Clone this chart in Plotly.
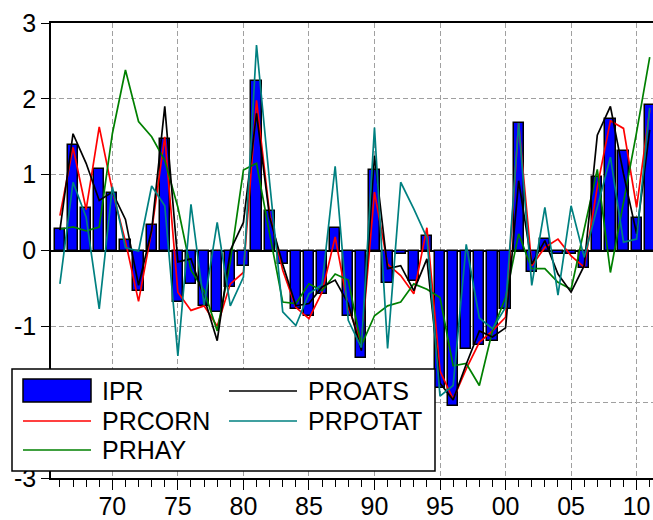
import plotly.graph_objects as go

# Annual observations 1966-2011
years = list(range(1966, 2012))

ipr = [0.28, 1.39, 0.56, 1.08, 0.76, 0.14, -0.53, 0.33, 1.47, -0.68,
       -0.44, -0.73, -0.81, -0.48, -0.21, 2.23, 0.52, -0.18, -0.77, -0.87,
       -0.57, 0.30, -0.87, -1.42, 1.06, -0.43, -0.05, -0.40, 0.19, -1.81,
       -2.05, -1.30, -1.25, -1.19, -0.77, 1.68, -0.29, 0.15, -0.05, -0.05,
       -0.23, 0.97, 1.74, 1.31, 0.43, 1.92]

prcorn = [0.46, 1.36, 0.54, 1.63, 0.79, 0.12, -0.67, 0.26, 1.50, -0.55,
          -0.79, -0.73, -1.00, -0.44, -0.29, 1.98, 0.48, -0.26, -0.75, -0.90,
          -0.55, 0.18, -0.75, -1.23, 0.77, -0.18, -0.33, -0.57, 0.30, -1.59,
          -1.96, -1.56, -1.21, -1.06, -0.88, 1.68, -0.20, 0.04, 0.15, -0.07,
          -0.22, 0.84, 1.71, 1.61, 0.57, 1.85]

prhay = [0.28, 0.31, 0.26, 0.31, 1.54, 2.38, 1.70, 1.50, 1.19, 0.57,
         -0.26, -0.53, -1.06, -0.15, 1.06, 1.15, 0.22, -0.68, -0.70, -0.44,
         -0.53, -0.31, -0.39, -1.25, -0.86, -0.73, -0.68, -0.44, -0.51, -0.62,
         -1.52, -1.49, -1.78, -1.06, -0.62, 0.22, -0.24, -0.24, -0.42, -0.51,
         0.28, 1.07, -0.29, 0.64, 1.56, 2.55]

proats = [0.27, 1.54, 1.15, 0.66, 0.77, 0.41, -0.46, 0.27, 1.90, -0.15,
          -0.11, -0.62, -1.19, 0.00, 0.37, 1.81, 0.44, -0.18, -0.73, -0.70,
          -0.48, -0.39, -0.70, -1.32, 1.25, -0.24, -0.20, -0.53, -0.11, -1.75,
          -1.97, -1.50, -1.06, -1.14, -1.02, 0.92, -0.18, 0.13, -0.31, -0.55,
          -0.20, 1.52, 1.90, 1.01, 0.22, 1.59]

prpotat = [-0.44, 0.90, 0.44, -0.77, 0.84, 0.04, -0.01, 0.85, 0.59, -1.39,
           0.61, -0.72, 0.37, -0.73, -0.35, 2.71, 0.90, -0.81, -0.99, -0.57,
           -0.45, 1.11, -0.92, -1.28, 1.62, -1.29, 0.90, 0.55, 0.17, -1.92,
           -1.78, 0.08, -0.89, -1.03, -0.75, 1.68, -0.46, 0.57, -0.59, 0.59,
           -0.09, 0.57, 1.23, 0.11, 0.15, 1.88]

x_tick_vals = [1970, 1975, 1980, 1985, 1990, 1995, 2000, 2005, 2010]
x_tick_text = ["70", "75", "80", "85", "90", "95", "00", "05", "10"]
y_tick_vals = [-3, -2, -1, 0, 1, 2, 3]
y_tick_text = ["-3", "-2", "-1", "0", "1", "2", "3"]

line_names = ["PRCORN", "PRHAY", "PROATS", "PRPOTAT"]
line_values = [prcorn, prhay, proats, prpotat]
line_colors = ["#ff0000", "#008000", "#000000", "#008080"]

FONT = "Liberation Sans, Arial, sans-serif"
W, H = 653, 520
ML, MR, MT, MB = 51, 0, 23, 42
PW, PH = W - ML - MR, H - MT - MB

fig = go.Figure()
fig.add_trace(go.Bar(x=years, y=ipr, name="IPR", width=0.78,
                     marker=dict(color="#0000ff",
                                 line=dict(color="#000000", width=1.5)),
                     showlegend=False))
for name, vals, col in zip(line_names, line_values, line_colors):
    fig.add_trace(go.Scatter(x=years, y=vals, name=name, mode="lines",
                             line=dict(color=col, width=1.7),
                             showlegend=False))


def px_x(px):
    return (px - ML) / PW


def px_y(py):
    return (H - MB - py) / PH


# Legend drawn as a boxed two-column key in the lower left
shapes = [dict(type="rect", xref="paper", yref="paper",
               x0=px_x(12), x1=px_x(435), y0=px_y(471), y1=px_y(369),
               fillcolor="white", line=dict(color="black", width=1.5),
               layer="above")]
annotations = []
entries = [("IPR", "#0000ff", "bar")] + [(n, c, "line") for n, c in zip(line_names, line_colors)]
row_y = [391, 421, 450]
col_x = [(23, 91, 100), (229, 297, 306)]
for i, (label, col, kind) in enumerate(entries):
    c, r = divmod(i, 3)
    x0, x1, tx = col_x[c]
    cy = row_y[r]
    if kind == "bar":
        shapes.append(dict(type="rect", xref="paper", yref="paper",
                           x0=px_x(x0), x1=px_x(x1), y0=px_y(cy + 11), y1=px_y(cy - 12),
                           fillcolor=col, line=dict(color="black", width=1.5),
                           layer="above"))
    else:
        shapes.append(dict(type="line", xref="paper", yref="paper",
                           x0=px_x(x0), x1=px_x(x1), y0=px_y(cy), y1=px_y(cy),
                           line=dict(color=col, width=1.7), layer="above"))
    annotations.append(dict(xref="paper", yref="paper", x=px_x(tx), y=px_y(cy),
                            text=label, showarrow=False, xanchor="left",
                            yanchor="middle", font=dict(size=25, color="black", family=FONT)))

fig.update_layout(
    width=W, height=H, autosize=False,
    margin=dict(l=ML, r=MR, t=MT, b=MB, pad=0, autoexpand=False),
    paper_bgcolor="white", plot_bgcolor="white",
    font=dict(family=FONT, size=25, color="black"),
    bargap=0, showlegend=False,
    shapes=shapes, annotations=annotations,
)
fig.update_xaxes(
    range=[1965.32, 2011.25], automargin=False,
    tickmode="array", tickvals=x_tick_vals, ticktext=x_tick_text,
    ticks="outside", ticklen=10, tickwidth=1.2, tickcolor="black",
    ticklabelstandoff=-5,
    minor=dict(tickmode="linear", tick0=1966, dtick=1, ticks="outside",
               ticklen=7, tickwidth=1.2, tickcolor="black", showgrid=False),
    showgrid=True, gridcolor="#a0a0a0", griddash="5px,3px", gridwidth=1,
    showline=True, linecolor="black", linewidth=1.5, mirror=True,
    zeroline=False, tickfont=dict(size=25),
)
fig.update_yaxes(
    range=[-3, 3], automargin=False,
    tickmode="array", tickvals=y_tick_vals, ticktext=y_tick_text,
    ticks="outside", ticklen=8, tickwidth=1.2, tickcolor="black",
    showgrid=True, gridcolor="#a0a0a0", griddash="5px,3px", gridwidth=1,
    showline=True, linecolor="black", linewidth=1.5, mirror=False,
    zeroline=True, zerolinecolor="black", zerolinewidth=1.5,
    tickfont=dict(size=25),
)

fig.write_html("out.html")
